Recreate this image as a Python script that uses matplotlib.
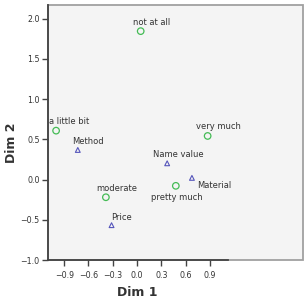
import matplotlib
matplotlib.use("Agg")
import matplotlib.pyplot as plt
from matplotlib.patches import Rectangle

# Category points (green circles)
cat_labels = ["not at all", "a little bit", "very much", "moderate", "pretty much"]
cat_x = [0.045, -1.00, 0.872, -0.385, 0.479]
cat_y = [1.845, 0.608, 0.542, -0.22, -0.078]

# Variable points (blue triangles)
var_labels = ["Method", "Name value", "Material", "Price"]
var_x = [-0.732, 0.372, 0.678, -0.315]
var_y = [0.368, 0.202, 0.021, -0.567]

xticks = [-0.9, -0.6, -0.3, 0.0, 0.3, 0.6, 0.9]
yticks = [-1.0, -0.5, 0.0, 0.5, 1.0, 1.5, 2.0]

# label offsets in pixels
cat_off = [(11, 9), (13, 9), (11, 9), (11, 9), (1, -12)]
var_off = [(10, 8), (11, 9), (22, -8), (10, 8)]

fig = plt.figure(figsize=(3.06, 2.98), dpi=100)
ax = fig.add_axes([48/306, 38/298, 255/306, 255/298])
ax.set_facecolor("#f4f4f4")
ax.set_xlim(-1.10, 2.05)
ax.set_ylim(-1.0, 2.17)

ax.add_patch(Rectangle((0, 0), 1, 1, transform=ax.transAxes, fill=False,
                       edgecolor="#a0a0a0", lw=1.3, zorder=1, clip_on=False))

ax.scatter(cat_x, cat_y, marker="o", s=22, facecolors="none",
           edgecolors="#44bb55", linewidths=0.9, zorder=3)
ax.scatter(var_x, var_y, marker="^", s=12, facecolors="none",
           edgecolors="#5555bb", linewidths=0.8, zorder=3)

pt = 0.72
for lab, x, y, (dx, dy) in zip(cat_labels, cat_x, cat_y, cat_off):
    ax.annotate(lab, (x, y), xytext=(dx * pt, dy * pt), textcoords="offset points",
                ha="center", va="center", fontsize=6, color="#333333")
for lab, x, y, (dx, dy) in zip(var_labels, var_x, var_y, var_off):
    ax.annotate(lab, (x, y), xytext=(dx * pt, dy * pt), textcoords="offset points",
                ha="center", va="center", fontsize=6, color="#333333")

ax.set_xticks(xticks)
ax.set_yticks(yticks)
ax.set_xticklabels([f"{v:.1f}".replace("-", "\u2212") for v in xticks])
ax.set_yticklabels([f"{v:.1f}".replace("-", "\u2212") for v in yticks])
ax.tick_params(axis="both", direction="out", length=4, width=1, color="#444444",
               labelsize=5.7, labelcolor="#333333", pad=2)
ax.tick_params(axis="x", pad=4)

for s in ["top", "right"]:
    ax.spines[s].set_visible(False)
ax.spines["left"].set_color("#444444")
ax.spines["left"].set_linewidth(1.3)
ax.spines["bottom"].set_color("#444444")
ax.spines["bottom"].set_linewidth(1.3)
ax.spines["bottom"].set_bounds(-1.10, 1.12)
ax.spines["left"].set_zorder(4)
ax.spines["bottom"].set_zorder(4)

ax.set_xlabel("Dim 1", fontsize=9, fontweight="bold", color="#333333")
ax.set_ylabel("Dim 2", fontsize=9, fontweight="bold", color="#333333")
ax.xaxis.set_label_coords(0.35, -0.10)
ax.yaxis.set_label_coords(-0.118, 0.46)

fig.savefig("out.png", dpi=100)
